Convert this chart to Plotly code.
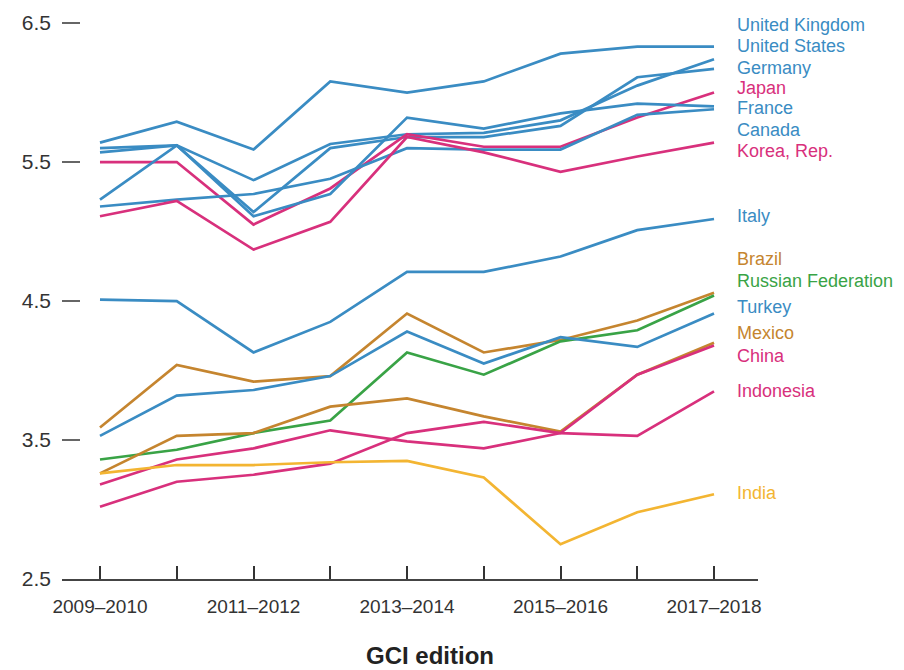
import plotly.graph_objects as go

# GCI editions (x axis categories)
editions = ["2009–2010", "2010–2011", "2011–2012", "2012–2013", "2013–2014",
            "2014–2015", "2015–2016", "2016–2017", "2017–2018"]
tick_labels = ["2009–2010", "", "2011–2012", "", "2013–2014", "", "2015–2016", "", "2017–2018"]

# Scores by economy, one value per edition
united_kingdom = [5.64, 5.79, 5.59, 6.08, 6.00, 6.08, 6.28, 6.33, 6.33]
united_states = [5.60, 5.62, 5.37, 5.63, 5.70, 5.71, 5.80, 6.05, 6.24]
germany = [5.57, 5.62, 5.14, 5.60, 5.68, 5.68, 5.76, 6.11, 6.17]
japan = [5.50, 5.50, 5.05, 5.31, 5.70, 5.61, 5.61, 5.82, 6.00]
france = [5.23, 5.62, 5.11, 5.27, 5.82, 5.74, 5.85, 5.92, 5.90]
canada = [5.18, 5.23, 5.27, 5.38, 5.60, 5.59, 5.59, 5.84, 5.88]
korea = [5.11, 5.22, 4.87, 5.07, 5.68, 5.57, 5.43, 5.54, 5.64]
italy = [4.51, 4.50, 4.13, 4.35, 4.71, 4.71, 4.82, 5.01, 5.09]
brazil = [3.59, 4.04, 3.92, 3.96, 4.41, 4.13, 4.22, 4.36, 4.56]
russia = [3.36, 3.43, 3.55, 3.64, 4.13, 3.97, 4.21, 4.29, 4.54]
turkey = [3.53, 3.82, 3.86, 3.96, 4.28, 4.05, 4.24, 4.17, 4.41]
mexico = [3.26, 3.53, 3.55, 3.74, 3.80, 3.67, 3.56, 3.97, 4.20]
china = [3.18, 3.36, 3.44, 3.57, 3.49, 3.44, 3.55, 3.97, 4.18]
indonesia = [3.02, 3.20, 3.25, 3.33, 3.55, 3.63, 3.55, 3.53, 3.85]
india = [3.26, 3.32, 3.32, 3.34, 3.35, 3.23, 2.75, 2.98, 3.11]

y_ticks = [2.5, 3.5, 4.5, 5.5, 6.5]

BLUE = "#3a8cc3"
PINK = "#d8307c"
BROWN = "#c5852f"
GREEN = "#39a346"
YELLOW = "#f3b532"

series = [
    ("United Kingdom", united_kingdom, BLUE),
    ("United States", united_states, BLUE),
    ("Germany", germany, BLUE),
    ("Japan", japan, PINK),
    ("France", france, BLUE),
    ("Canada", canada, BLUE),
    ("Korea, Rep.", korea, PINK),
    ("Italy", italy, BLUE),
    ("Brazil", brazil, BROWN),
    ("Russian Federation", russia, GREEN),
    ("Turkey", turkey, BLUE),
    ("Mexico", mexico, BROWN),
    ("China", china, PINK),
    ("Indonesia", indonesia, PINK),
    ("India", india, YELLOW),
]

# Vertical placement of the end-of-line name labels (stacked to avoid overlap)
label_y = {
    "United Kingdom": 6.485, "United States": 6.334, "Germany": 6.18,
    "Japan": 6.032, "France": 5.888, "Canada": 5.73, "Korea, Rep.": 5.58,
    "Italy": 5.112, "Brazil": 4.80, "Russian Federation": 4.644,
    "Turkey": 4.457, "Mexico": 4.27, "China": 4.105, "Indonesia": 3.853,
    "India": 3.119,
}

x_idx = list(range(len(editions)))
SANS = "Liberation Sans, Arial, Helvetica, sans-serif"

fig = go.Figure()
for name, vals, color in series:
    fig.add_trace(go.Scatter(
        x=x_idx, y=vals, mode="lines", name=name,
        line=dict(color=color, width=2.7),
        hovertemplate="%{y:.2f}<extra>" + name + "</extra>",
    ))

for name, vals, color in series:
    fig.add_annotation(
        x=8.27, y=label_y[name], xref="x", yref="y",
        text=name, showarrow=False, xanchor="left", yanchor="middle",
        font=dict(family=SANS, size=18, color=color),
    )

fig.add_annotation(
    x=0.529, y=-0.135, xref="paper", yref="paper",
    text="<b>GCI edition</b>", showarrow=False,
    xanchor="center", yanchor="middle",
    font=dict(family=SANS, size=24, color="#222"),
)

fig.update_layout(
    width=904, height=670,
    margin=dict(l=62, r=146, t=10, b=91),
    paper_bgcolor="white", plot_bgcolor="white",
    showlegend=False,
    font=dict(family=SANS, color="#333"),
)
fig.update_xaxes(
    range=[-0.495, 8.573],
    tickvals=x_idx, ticktext=tick_labels,
    showline=True, linecolor="#444", linewidth=2,
    ticks="inside", ticklen=13, tickwidth=2, tickcolor="#333",
    tickfont=dict(family=SANS, size=19, color="#333"),
    ticklabelstandoff=9,
    showgrid=False, zeroline=False,
)
fig.update_yaxes(
    range=[2.5, 6.594],
    tickvals=y_ticks, ticktext=[f"{v:.1f}" for v in y_ticks],
    showline=False,
    ticks="inside", ticklen=18, tickwidth=1.5, tickcolor="#666",
    tickfont=dict(family=SANS, size=21, color="#333"),
    ticklabelstandoff=10,
    showgrid=False, zeroline=False,
)

fig.write_html("out.html")
